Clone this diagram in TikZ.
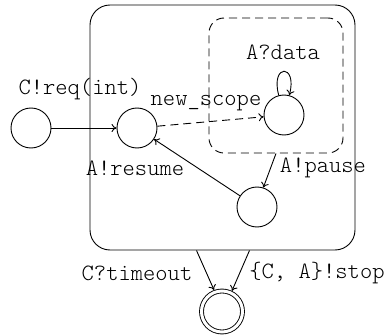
\documentclass[tikz,border=0pt]{standalone}
\usetikzlibrary{arrows.meta}

\tikzset{
	state/.style={draw, circle, minimum size=40bp, inner sep=0pt},
	final/.style={state, double, double distance=3bp, minimum size=41bp},
	lbl/.style={inner sep=0pt, font=\ttfamily\fontseries{l}\fontsize{23.5}{26}\selectfont}
}

\begin{document}
\begin{tikzpicture}[x=1bp, y=1bp, >={To[length=5bp,width=8bp]}, line width=0.9bp]
	\useasboundingbox (0,0) rectangle (389,336);
	% session box and the scope inside it
	\node[draw, rounded corners=20bp, minimum width=265bp, minimum height=245bp,
		inner sep=0pt] (session) at (222.5,208.5) {};
	\node[draw, dash pattern=on 8bp off 5bp, rounded corners=15bp,
		minimum width=134bp, minimum height=135bp, inner sep=0pt] (scope) at (276,250.5) {};
	% states
	\node[state] (q0) at (31,208) {};
	\node[state] (q1) at (137,208) {};
	\node[state] (q2) at (284,221) {};
	\node[state] (q3) at (257,129) {};
	\node[final] (qf) at (222,24.5) {};
	% labels
	\node[lbl] (lreq) at (80,247) {C!req(int)};
	\node[lbl] (lnew) at (206,233) {new\_scope};
	\node[lbl] (ldata) at (283,284) {A?data};
	\node[lbl] (lresume) at (135,168) {A!resume};
	\node[lbl] (lpause) at (323,168) {A!pause};
	\node[lbl] (ltimeout) at (137,63) {C?timeout};
	\node[lbl] (lstop) at (317,63) {\{C, A\}!stop};
	% transitions
	\draw[->] (q0) -- (q1);
	\draw[->, dash pattern=on 8bp off 5bp] (q1) -- (q2);
	\draw[->] (q2) to[out=105, in=75, looseness=8, min distance=32bp] (q2);
	\draw[->] (scope.south) -- (q3.72);
	\draw[->] (q3) -- (q1);
	\draw[->, shorten >=2bp] ([xshift=-26bp]session.south) -- (qf.110);
	\draw[->, shorten >=2bp] ([xshift=27bp]session.south) -- (qf.64);
\end{tikzpicture}
\end{document}
